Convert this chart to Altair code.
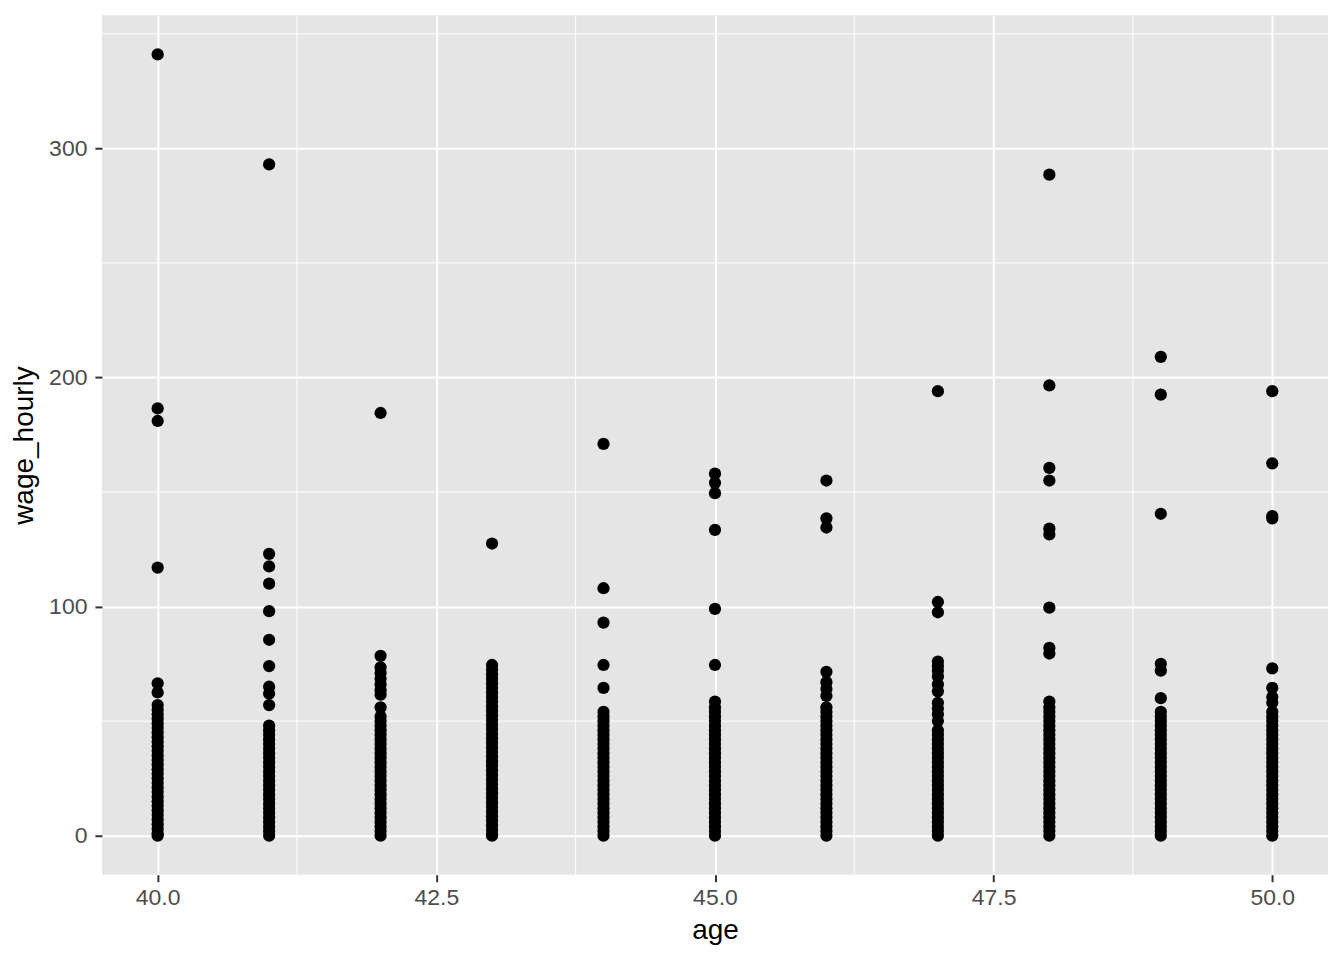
import altair as alt
import pandas as pd

# wage_hourly values read per age column (outliers first, then the dense band)
age_40 = [341, 186.5, 181, 117, 66.5, 62.5, 57, 55, 53, 51, 49, 47, 45, 43, 41, 39, 37, 35,
          33, 31, 29, 27, 25, 23, 21, 19, 17, 15, 13, 11, 9, 7, 5, 3, 1, 0]
age_41 = [293, 123, 117.5, 110, 98, 85.5, 74, 65, 62, 57, 48, 46, 44, 42, 40, 38, 36, 34,
          32, 30, 28, 26, 24, 22, 20, 18, 16, 14, 12, 10, 8, 6, 4, 2, 0]
age_42 = [184.5, 78.5, 73.5, 71, 68.5, 66, 63.5, 61.5, 56, 52, 50, 48, 46, 44, 42, 40, 38,
          36, 34, 32, 30, 28, 26, 24, 22, 20, 18, 16, 14, 12, 10, 8, 6, 4, 2, 0]
age_43 = [127.5, 74.5, 72.5, 70.5, 68.5, 66.5, 64.5, 62.5, 60.5, 58.5, 56.5, 54.5, 52.5,
          50.5, 48.5, 46.5, 44.5, 42.5, 40.5, 38.5, 36.5, 34.5, 32.5, 30.5, 28.5, 26.5,
          24.5, 22.5, 20.5, 18.5, 16.5, 14.5, 12.5, 10.5, 8.5, 6.5, 4.5, 2.5, 0.5, 0]
age_44 = [171, 108, 93, 74.5, 64.5, 54, 52, 50, 48, 46, 44, 42, 40, 38, 36, 34, 32, 30, 28,
          26, 24, 22, 20, 18, 16, 14, 12, 10, 8, 6, 4, 2, 0]
age_45 = [158, 154, 149.5, 133.5, 99, 74.5, 58.5, 56, 54, 52, 50, 48, 46, 44, 42, 40, 38,
          36, 34, 32, 30, 28, 26, 24, 22, 20, 18, 16, 14, 12, 10, 8, 6, 4, 2, 0]
age_46 = [155, 138.5, 134.5, 71.5, 67, 64, 61, 56, 54, 52, 50, 48, 46, 44, 42, 40, 38, 36,
          34, 32, 30, 28, 26, 24, 22, 20, 18, 16, 14, 12, 10, 8, 6, 4, 2, 0]
age_47 = [194, 102, 97.5, 76, 74, 72, 69.5, 66, 63, 58, 55.5, 53, 50, 46, 44, 42, 40, 38,
          36, 34, 32, 30, 28, 26, 24, 22, 20, 18, 16, 14, 12, 10, 8, 6, 4, 2, 0]
age_48 = [288.5, 196.5, 160.5, 155, 134, 131.5, 99.5, 82, 79.5, 58.5, 56, 54, 52, 50, 48,
          46, 44, 42, 40, 38, 36, 34, 32, 30, 28, 26, 24, 22, 20, 18, 16, 14, 12, 10, 8, 6,
          4, 2, 0]
age_49 = [209, 192.5, 140.5, 75, 72, 60, 54, 52, 50, 48, 46, 44, 42, 40, 38, 36, 34, 32, 30,
          28, 26, 24, 22, 20, 18, 16, 14, 12, 10, 8, 6, 4, 2, 0]
age_50 = [194, 162.5, 139.5, 138.5, 73, 64.5, 60.5, 58, 54, 52, 50, 48, 46, 44, 42, 40, 38,
          36, 34, 32, 30, 28, 26, 24, 22, 20, 18, 16, 14, 12, 10, 8, 6, 4, 2, 0]

ages = [40, 41, 42, 43, 44, 45, 46, 47, 48, 49, 50]
columns = [age_40, age_41, age_42, age_43, age_44, age_45, age_46, age_47, age_48, age_49, age_50]

x_ticks = [40, 42.5, 45, 47.5, 50]
y_ticks = [0, 100, 200, 300]
x_minor = [41.25, 43.75, 46.25, 48.75]
y_minor = [50, 150, 250, 350]

rows = []
for a, vals in zip(ages, columns):
    for v in vals:
        rows.append({"age": a, "wage_hourly": v})
df = pd.DataFrame(rows)

FONT = "Liberation Sans"
x_scale = alt.Scale(domain=[39.5, 50.5], nice=False, zero=False)
y_scale = alt.Scale(domain=[-17.05, 358.05], nice=False, zero=False)

x_axis = alt.Axis(values=x_ticks, format=".1f", labelPadding=5, titlePadding=7)
y_axis = alt.Axis(values=y_ticks, format="d", labelPadding=8, titlePadding=10)

minor_x = alt.Chart(pd.DataFrame({"age": x_minor})).mark_rule(
    color="white", strokeWidth=1
).encode(x=alt.X("age:Q", scale=x_scale, title="age", axis=x_axis))

minor_y = alt.Chart(pd.DataFrame({"wage_hourly": y_minor})).mark_rule(
    color="white", strokeWidth=1
).encode(y=alt.Y("wage_hourly:Q", scale=y_scale, title="wage_hourly", axis=y_axis))

points = alt.Chart(df).mark_circle(
    color="black", opacity=1, size=150
).encode(
    x=alt.X("age:Q", scale=x_scale, title="age", axis=x_axis),
    y=alt.Y("wage_hourly:Q", scale=y_scale, title="wage_hourly", axis=y_axis),
)

chart = alt.layer(minor_x, minor_y, points).properties(
    width=1227, height=860,
    autosize=alt.AutoSizeParams(type="none"),
    padding={"left": 94, "top": 7, "right": 8, "bottom": 90},
).configure_view(
    fill="#E5E5E5", stroke=None
).configure_axis(
    grid=True, gridColor="white", gridWidth=2,
    domain=False,
    ticks=True, tickColor="#333333", tickWidth=2, tickSize=7,
    labelFont=FONT, labelFontSize=23, labelColor="#4D4D4D",
    titleFont=FONT, titleFontSize=28, titleColor="black", titleFontWeight="normal",
)

chart.save("out.html", embed_options={"renderer": "svg", "actions": False})
